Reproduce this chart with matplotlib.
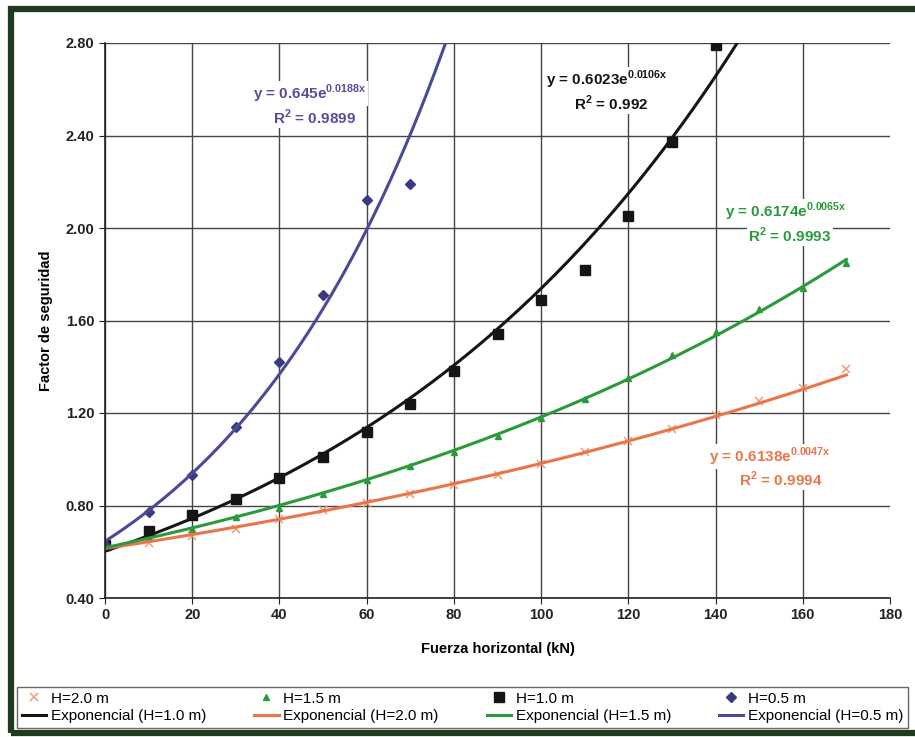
import numpy as np
import matplotlib
matplotlib.use('Agg')
from matplotlib import pyplot as plt
from matplotlib.patches import Rectangle

plt.rcParams['font.family'] = ['Liberation Sans', 'DejaVu Sans']
plt.rcParams['mathtext.fontset'] = 'custom'
plt.rcParams['mathtext.rm'] = 'Liberation Sans:bold'
plt.rcParams['mathtext.bf'] = 'Liberation Sans:bold'

# datos
fuerza = [0, 10, 20, 30, 40, 50, 60, 70, 80, 90, 100, 110, 120, 130, 140, 150, 160, 170]
fs_h20 = [0.62, 0.64, 0.67, 0.70, 0.74, 0.78, 0.81, 0.85, 0.89, 0.93, 0.98, 1.03, 1.08, 1.13, 1.19, 1.25, 1.31, 1.39]
fs_h15 = [0.62, 0.66, 0.70, 0.75, 0.79, 0.85, 0.91, 0.97, 1.03, 1.10, 1.18, 1.26, 1.35, 1.45, 1.55, 1.65, 1.74, 1.85]
fs_h10 = [0.63, 0.69, 0.76, 0.83, 0.92, 1.01, 1.12, 1.24, 1.38, 1.54, 1.69, 1.82, 2.05, 2.37, 2.79]
fs_h05 = [0.63, 0.77, 0.93, 1.14, 1.42, 1.71, 2.12, 2.19]

# ajustes exponenciales y = a*e^(b*x)
fit_h10 = (0.6023, 0.0106)
fit_h20 = (0.6138, 0.0047)
fit_h15 = (0.6174, 0.0065)
fit_h05 = (0.645, 0.0188)

fig = plt.figure(figsize=(9.15, 7.37), dpi=100)
ax = fig.add_axes([105 / 915, 1 - 598 / 737, 785 / 915, 555 / 737])

c_orange = '#e8764a'
c_green = '#2a9a3a'
c_black = '#151515'
c_blue = '#4a4a98'

p1, = ax.plot(fuerza, fs_h20, 'x', color='#f39a78', ms=6, mew=1.1)
p2, = ax.plot(fuerza, fs_h15, '^', color=c_green, ms=4)
p3, = ax.plot(fuerza[:len(fs_h10)], fs_h10, 's', color=c_black, ms=7)
p4, = ax.plot(fuerza[:len(fs_h05)], fs_h05, 'D', color='#3a3a80', ms=5)

xs = np.linspace(0, max(fuerza), 300)
l1, = ax.plot(xs, fit_h10[0] * np.exp(fit_h10[1] * xs), color=c_black, lw=2.2)
l2, = ax.plot(xs, fit_h20[0] * np.exp(fit_h20[1] * xs), color=c_orange, lw=2.2)
l3, = ax.plot(xs, fit_h15[0] * np.exp(fit_h15[1] * xs), color=c_green, lw=2.2)
l4, = ax.plot(xs, fit_h05[0] * np.exp(fit_h05[1] * xs), color=c_blue, lw=2.2)

ax.set_xlim(0, 180)
ax.set_ylim(0.4, 2.8)
ax.set_xticks(range(0, 181, 20))
ax.set_yticks(np.arange(0.4, 2.81, 0.4))
ax.set_yticklabels(['%.2f' % v for v in np.arange(0.4, 2.81, 0.4)])
ax.grid(True, color='#444444', lw=1)
ax.get_xgridlines()[-1].set_visible(False)
for s in ['top', 'right']:
    ax.spines[s].set_visible(False)
for s in ['left', 'bottom']:
    ax.spines[s].set_color('#222222')
    ax.spines[s].set_linewidth(1.2)
ax.tick_params(direction='out', length=4, labelsize=10.5, colors='#222222')
for lab in ax.get_xticklabels() + ax.get_yticklabels():
    lab.set_fontweight('bold')

ax.set_xlabel('Fuerza horizontal (kN)', fontsize=10.5, fontweight='bold', labelpad=14)
ax.set_ylabel('Factor de seguridad', fontsize=10.5, fontweight='bold', labelpad=9)

def eq(a, b):
    return 'y = %se$^{\\mathrm{%sx}}$' % (a, b)

# etiquetas de las lineas de tendencia, con fondo blanco como en Excel
tk = dict(fontsize=11, fontweight='bold', ha='center', va='center',
          bbox=dict(facecolor='white', edgecolor='none', pad=1))
ax.text(47, 2.58, eq('0.645', '0.0188'), color='#5a4a9a', **tk)
ax.text(48, 2.48, 'R$^{2}$ = 0.9899', color='#5a4a9a', **tk)
ax.text(115, 2.64, eq('0.6023', '0.0106'), color=c_black, **tk)
ax.text(116, 2.54, 'R$^{2}$ = 0.992', color=c_black, **tk)
ax.text(156, 2.07, eq('0.6174', '0.0065'), color=c_green, **tk)
ax.text(157, 1.97, 'R$^{2}$ = 0.9993', color=c_green, **tk)
ax.text(152.5, 1.01, eq('0.6138', '0.0047'), color=c_orange, **tk)
ax.text(155, 0.915, 'R$^{2}$ = 0.9994', color=c_orange, **tk)

row1 = [(p1, 'H=2.0 m'), (p2, 'H=1.5 m'), (p3, 'H=1.0 m'), (p4, 'H=0.5 m')]
row2 = [(l1, 'Exponencial (H=1.0 m)'), (l2, 'Exponencial (H=2.0 m)'),
        (l3, 'Exponencial (H=1.5 m)'), (l4, 'Exponencial (H=0.5 m)')]
handles, labels = [], []
for a, b in zip(row1, row2):
    handles += [a[0], b[0]]
    labels += [a[1], b[1]]
leg = fig.legend(handles, labels, ncol=4, loc='lower left',
                 bbox_to_anchor=(17 / 915, 1 - 728 / 737, 891 / 915, 55 / 737),
                 mode='expand', borderaxespad=0, fancybox=False,
                 edgecolor='#444444', fontsize=11, handlelength=1.6,
                 handletextpad=0.3, labelspacing=0.25, borderpad=0.3)
leg.get_frame().set_linewidth(1)

fig.patches.append(Rectangle((11 / 915, 4 / 737), 1.0, 1 - 13 / 737,
                             transform=fig.transFigure, fill=False,
                             edgecolor='#1f3a1f', lw=4.5))

fig.savefig('out.png', dpi=100)
